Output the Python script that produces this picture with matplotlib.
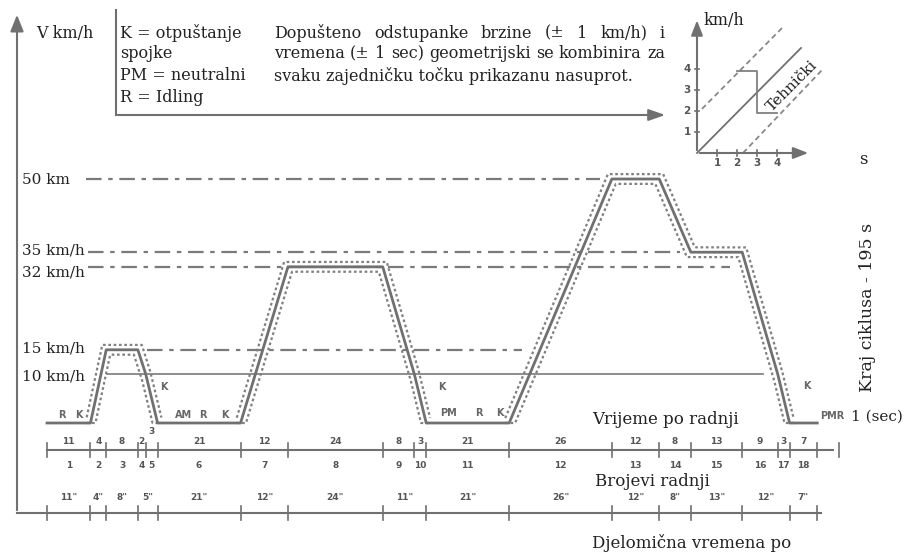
import numpy as np
import matplotlib
matplotlib.use("Agg")
import matplotlib.pyplot as plt
import matplotlib.transforms as mtransforms

# ECE-15 ciklus: trajanje i brzina na kraju svake radnje
op_trajanje = [11, 4, 8, 2, 3, 21, 12, 24, 8, 3, 21, 26, 12, 8, 13, 9, 3, 7]
op_brzina = [0, 15, 15, 10, 0, 0, 32, 32, 10, 0, 0, 50, 50, 35, 35, 10, 0, 0]
op_brojevi = [str(i) for i in range(1, 19)]

# djelomicna vremena po fazama
faze_trajanje = [11, 4, 8, 5, 21, 12, 24, 11, 21, 26, 12, 8, 13, 12, 7]

# referentne brzine
ref_brzine = [50, 35, 32, 15]
ref_oznake = ["50 km", "35 km/h", "32 km/h", "15 km/h", "10 km/h"]

# tolerancija
tol_v = 1.0
tol_t = 1.0

# inset (tehnicki)
ins_idealno_x = [0, 5.2]
ins_idealno_y = [0, 5.0]
ins_gornja_x = [0.25, 4.3]
ins_gornja_y = [2.1, 6.0]
ins_donja_x = [2.3, 6.3]
ins_donja_y = [0.0, 4.0]
ins_stvarno_x = [2, 3, 3, 4]
ins_stvarno_y = [3.9, 3.9, 1.9, 1.9]

W, H = 906, 558
fig = plt.figure(figsize=(W / 100, H / 100), dpi=100)
px = mtransforms.Affine2D().scale(1 / W, -1 / H).translate(0, 1) + fig.transFigure

SERIF = ["DejaVu Serif"]
SIVA = "#707070"
TEKST = "#222222"

# glavne osi: x = vrijeme (s), y = brzina (km/h), preko cijele slike
x0, sx = 47, 3.95
y0, sy = 423, 4.88
ax = fig.add_axes([0, 0, 1, 1])
ax.set_xlim(-x0 / sx, (W - x0) / sx)
ax.set_ylim((y0 - H) / sy, y0 / sy)
ax.axis("off")


def tx(p):
    return (p - x0) / sx


def vy(p):
    return (y0 - p) / sy


def poravnaj(rijeci, xl, xr, ypx, **kw):
    # obostrano poravnanje retka, rijec po rijec
    r = fig.canvas.get_renderer()
    tt_ = [ax.text(xl, ypx, w, transform=px, va="center", **kw) for w in rijeci]
    sir = [t.get_window_extent(r).width for t in tt_]
    razmak = (xr - xl - sum(sir)) / (len(rijeci) - 1)
    x = xl
    for t, s in zip(tt_, sir):
        t.set_x(x)
        x += s + razmak


# profil brzine
t_kraj = np.cumsum(op_trajanje)
t_prof = np.concatenate([[0], t_kraj])
v_prof = np.concatenate([[0], op_brzina])
ax.plot(t_prof, v_prof, color=SIVA, lw=2.0, zorder=3)

# tolerancijsko podrucje (geometrijska kombinacija +-1 s i +-1 km/h)
tt = np.linspace(0, t_kraj[-1], 4000)
pomaci = np.linspace(-tol_t, tol_t, 9)
vv = np.array([np.interp(tt + d, t_prof, v_prof) for d in pomaci])
gornja = vv.max(axis=0) + tol_v
donja = np.clip(vv.min(axis=0) - tol_v, 0, None)
gornja[vv.max(axis=0) <= 0] = np.nan
donja[vv.max(axis=0) <= 0] = np.nan
ax.plot(tt, gornja, color="#808080", lw=1.6, ls=(0, (1.2, 1.2)), zorder=2)
ax.plot(tt, donja, color="#808080", lw=1.6, ls=(0, (1.2, 1.2)), zorder=2)

# referentne linije
ref_pocetak = [tx(86), tx(88), tx(88), tx(147)]
ref_kraj = [tx(600), tx(680), tx(730), tx(522)]
for v, a, b in zip(ref_brzine, ref_pocetak, ref_kraj):
    ax.plot([a, b], [v, v], color="#7a7a7a", lw=1.6, ls=(0, (7, 3, 2, 3)), zorder=1)
ax.plot([tx(107), tx(763)], [10, 10], color="#7a7a7a", lw=1.2, zorder=1)

for lab, ypx in zip(ref_oznake, [180, 250, 272, 349, 377]):
    ax.text(22, ypx, lab, transform=px, family=SERIF, fontsize=11, color=TEKST, va="center")

# vremenske osi ispod
red1 = vy(450)
red3 = vy(513)
ax.plot([0, tx(833)], [red1, red1], color=SIVA, lw=1.5)
for t in t_prof:
    ax.plot([t, t], [red1 - 1.5, red1 + 1.5], color=SIVA, lw=1.2)
ax.plot([t_prof[-1] + 5.5] * 2, [red1 - 1.5, red1 + 1.5], color=SIVA, lw=1.2)
for i, (a, b) in enumerate(zip(t_prof[:-1], t_prof[1:])):
    c = (a + b) / 2
    gore = vy(432) if i == 4 else vy(442)
    ax.text(c, gore, str(op_trajanje[i]), fontsize=6.5, fontweight="bold",
            color="#555555", ha="center", va="center")
    ax.text(c, vy(465), op_brojevi[i], fontsize=6.5, fontweight="bold",
            color="#555555", ha="center", va="center")

t_faze = np.concatenate([[0], np.cumsum(faze_trajanje)])
ax.plot([tx(17), t_faze[-1] + 1], [red3, red3], color=SIVA, lw=1.5)
for t in t_faze:
    ax.plot([t, t], [red3 - 1.5, red3 + 1.5], color=SIVA, lw=1.2)
for d, a, b in zip(faze_trajanje, t_faze[:-1], t_faze[1:]):
    ax.text((a + b) / 2, vy(498), f'{d}"', fontsize=6.5, fontweight="bold",
            color="#555555", ha="center", va="center")

# lijeva os brzine
ax.annotate("", xy=(17, 12), xytext=(17, 513), xycoords=px, textcoords=px,
            arrowprops=dict(arrowstyle="-|>,head_length=1.0,head_width=0.4",
                            color=SIVA, lw=1.5))
ax.text(36, 33, "V km/h", transform=px, family=SERIF, fontsize=11.5,
        color=TEKST, va="center")

# okvir zaglavlja
ax.plot([116, 116], [10, 115], transform=px, color=SIVA, lw=1.5)
ax.annotate("", xy=(668, 115), xytext=(115, 115), xycoords=px, textcoords=px,
            arrowprops=dict(arrowstyle="-|>,head_length=1.0,head_width=0.35",
                            color=SIVA, lw=1.5))
for ypx, s in zip([33, 54, 76, 97],
                  ["K = otpuštanje", "spojke", "PM = neutralni", "R = Idling"]):
    ax.text(120, ypx, s, transform=px, family=SERIF, fontsize=11.5,
            color=TEKST, va="center")
poravnaj("Dopušteno odstupanke brzine (± 1 km/h) i".split(), 274, 665, 33,
         family=SERIF, fontsize=11.5, color=TEKST)
poravnaj("vremena (± 1 sec) geometrijski se kombinira za".split(), 274, 665, 54,
         family=SERIF, fontsize=11.5, color=TEKST)
ax.text(274, 76, "svaku zajedničku točku prikazanu nasuprot.", transform=px,
        family=SERIF, fontsize=11.5, color=TEKST, va="center")

# oznake uz profil
male = [(58, 415, "R"), (75, 415, "K"), (160, 387, "K"), (175, 415, "AM"),
        (199, 415, "R"), (221, 415, "K"), (438, 387, "K"), (440, 413, "PM"),
        (475, 413, "R"), (496, 413, "K"), (803, 386, "K"), (820, 416, "PMR")]
for xp, yp, s in male:
    ax.text(xp, yp, s, transform=px, fontsize=7, fontweight="bold",
            color="#666666", va="center")

ax.text(665, 420, "Vrijeme po radnji", transform=px, family=SERIF,
        fontsize=12, color=TEKST, ha="center", va="center")
ax.text(851, 417, "1 (sec)", transform=px, family=SERIF, fontsize=11,
        color=TEKST, va="center")
ax.text(868, 307, "Kraj ciklusa - 195 s", transform=px, family=SERIF,
        fontsize=12.5, color=TEKST, ha="center", va="center", rotation=90)
ax.text(863, 160, "s", transform=px, family=SERIF, fontsize=12,
        color=TEKST, ha="center", va="center")
ax.text(652, 482, "Brojevi radnji", transform=px, family=SERIF, fontsize=12,
        color=TEKST, ha="center", va="center")
ax.text(692, 543, "Djelomična vremena po", transform=px, family=SERIF,
        fontsize=12, color=TEKST, ha="center", va="center")

# inset: tehnicki
ux, uy = 20, 21
ins = fig.add_axes([697 / W, (H - 153) / H, 6 * ux / W, 6.5 * uy / H])
ins.set_xlim(0, 6)
ins.set_ylim(0, 6.5)
ins.axis("off")
ins.annotate("", xy=(5.7, 0), xytext=(0, 0),
             arrowprops=dict(arrowstyle="-|>,head_length=0.9,head_width=0.35",
                             color=SIVA, lw=1.5), annotation_clip=False)
ins.annotate("", xy=(0, 6.45), xytext=(0, 0),
             arrowprops=dict(arrowstyle="-|>,head_length=0.9,head_width=0.35",
                             color=SIVA, lw=1.5), annotation_clip=False)
for k in range(1, 5):
    ins.plot([k, k], [-0.12, 0.12], color=SIVA, lw=1.2, clip_on=False)
    ins.plot([-0.12, 0.12], [k, k], color=SIVA, lw=1.2, clip_on=False)
    ins.text(k, -0.5, str(k), fontsize=7.5, fontweight="bold", color="#555555",
             ha="center", va="center")
    ins.text(-0.5, k, str(k), fontsize=7.5, fontweight="bold", color="#555555",
             ha="center", va="center")
ins.plot(ins_idealno_x, ins_idealno_y, color=SIVA, lw=1.3, clip_on=False)
ins.plot(ins_gornja_x, ins_gornja_y, color="#888888", lw=1.3, ls=(0, (3, 2)), clip_on=False)
ins.plot(ins_donja_x, ins_donja_y, color="#888888", lw=1.3, ls=(0, (3, 2)), clip_on=False)
ins.plot(ins_stvarno_x, ins_stvarno_y, color="#808080", lw=1.3, clip_on=False)
ins.text(4.75, 3.2, "Tehnički", family=SERIF, fontsize=11, color=TEKST,
         rotation=45, ha="center", va="center")
ins.text(0.3, 6.3, "km/h", family=SERIF, fontsize=11.5, color=TEKST, va="center")

fig.savefig("out.png", dpi=100, facecolor="white")
